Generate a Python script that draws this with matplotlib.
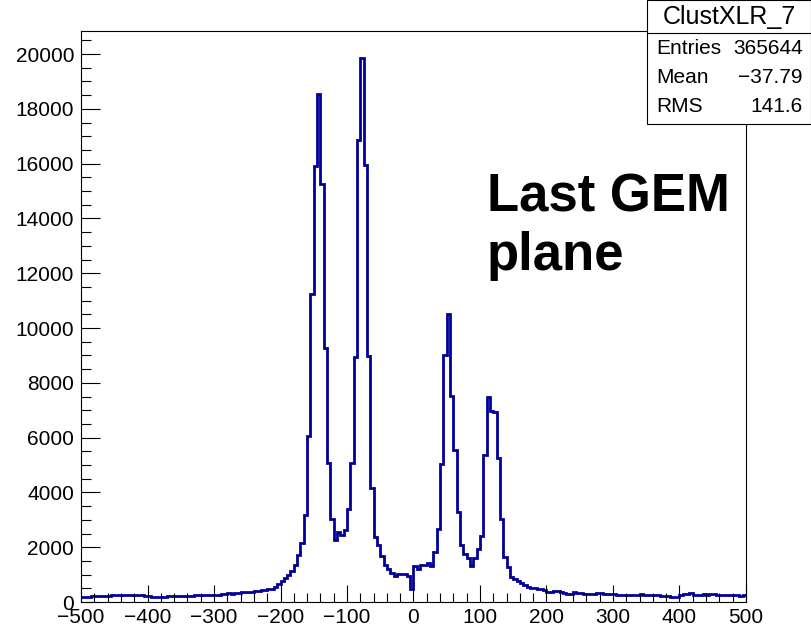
import numpy as np
import matplotlib
matplotlib.use("Agg")
import matplotlib.pyplot as plt
from matplotlib.patches import Rectangle
from matplotlib.ticker import MultipleLocator

plt.rcParams['font.family'] = ['Liberation Sans', 'DejaVu Sans']

# histogram ClustXLR_7: 200 bins of width 5 from -500 to 500
x_min, x_max, n_bins = -500, 500, 200

# counts, left tail [-500, -200)
counts_left_tail = [
    180, 180, 190, 205, 210, 218, 220, 215, 225, 242,
    240, 254, 250, 242, 240, 266, 260, 242, 245, 218,
    215, 180, 185, 178, 194, 196, 206, 205, 218, 220,
    230, 228, 218, 220, 242, 245, 266, 260, 266, 262,
    242, 245, 290, 285, 315, 310, 339, 335, 363, 360,
    363, 370, 387, 390, 436, 440, 484, 490, 530, 640,
]
# [-200, 0)
counts_peaks_neg = [
    780, 870, 995, 1115, 1350, 1700, 2160, 3190, 6060, 11260,
    15900, 18550, 15260, 9260, 5080, 3030, 2270, 2550, 2440, 2640,
    3400, 5080, 8930, 16880, 19850, 15960, 8970, 4150, 2370, 2080,
    1690, 1350, 1200, 1050, 950, 1010, 1010, 1010, 960, 480,
]
# [0, 200)
counts_peaks_pos = [
    1330, 1210, 1350, 1350, 1430, 1310, 1840, 2680, 5050, 9030,
    10520, 7530, 5540, 3290, 2080, 1750, 1600, 1310, 1600, 1930,
    2420, 5380, 7500, 6980, 6950, 5260, 3020, 1660, 1290, 910,
    840, 770, 700, 630, 560, 520, 520, 490, 460, 430,
]
# [200, 500)
counts_right_tail = [
    370, 350, 390, 395, 360, 330, 305, 310, 350, 320,
    335, 300, 290, 292, 295, 315, 312, 305, 290, 288,
    278, 272, 266, 262, 254, 250, 242, 250, 275, 245,
    242, 254, 250, 242, 235, 218, 215, 194, 190, 170,
    240, 290, 300, 320, 270, 242, 250, 290, 266, 290,
    285, 266, 266, 266, 260, 242, 245, 262, 218, 242,
]

stats_title = "ClustXLR_7"
stats_rows = [("Entries", "365644"), ("Mean", "\u221237.79"), ("RMS", "141.6")]
label_lines = ["Last GEM", "plane"]

counts = np.array(counts_left_tail + counts_peaks_neg + counts_peaks_pos + counts_right_tail)
edges = np.linspace(x_min, x_max, n_bins + 1)

W, H = 812, 632
fig = plt.figure(figsize=(W / 100, H / 100), dpi=100)
ax = fig.add_axes([81 / W, 1 - 602 / H, (746 - 81) / W, (602 - 31) / H])

ax.stairs(counts, edges, color='#000099', linewidth=2.0, baseline=None)

ax.set_xlim(x_min, x_max)
ax.set_ylim(0, 1.05 * counts.max())

ax.xaxis.set_major_locator(MultipleLocator(100))
ax.xaxis.set_minor_locator(MultipleLocator(20))
ax.yaxis.set_major_locator(MultipleLocator(2000))
ax.yaxis.set_minor_locator(MultipleLocator(500))

ax.tick_params(axis='x', which='major', direction='in', length=12.5, width=0.8, labelsize=15, pad=4)
ax.tick_params(axis='x', which='minor', direction='in', length=6.5, width=0.8)
ax.tick_params(axis='y', which='major', direction='in', length=14, width=0.8, labelsize=15, pad=5)
ax.tick_params(axis='y', which='minor', direction='in', length=7, width=0.8)
for sp in ax.spines.values():
    sp.set_linewidth(0.8)

# big label
fig.text(487 / W, 1 - 212 / H, label_lines[0], fontsize=38, fontweight='bold', va='baseline')
fig.text(487 / W, 1 - 270 / H, label_lines[1], fontsize=38, fontweight='bold', va='baseline')

# stats box like ROOT
bx0, bx1 = 647 / W, 811.5 / W
by0, by1 = 1 - 124 / H, 1 - 0.5 / H
fig.patches.append(Rectangle((bx0, by0), bx1 - bx0, by1 - by0, transform=fig.transFigure,
                             facecolor='white', edgecolor='black', linewidth=0.8, zorder=10))
fig.lines.append(plt.Line2D([bx0, bx1], [1 - 33 / H, 1 - 33 / H], transform=fig.transFigure,
                            color='black', linewidth=0.8, zorder=11))
fig.text((bx0 + bx1) / 2, 1 - 17 / H, stats_title, fontsize=18, ha='center', va='center', zorder=12)
for i, (name, val) in enumerate(stats_rows):
    yy = 1 - (48 + 29.5 * i) / H
    fig.text(656 / W, yy, name, fontsize=15, ha='left', va='center', zorder=12)
    fig.text(803 / W, yy, val, fontsize=15, ha='right', va='center', zorder=12)

fig.savefig("out.png", dpi=100)
